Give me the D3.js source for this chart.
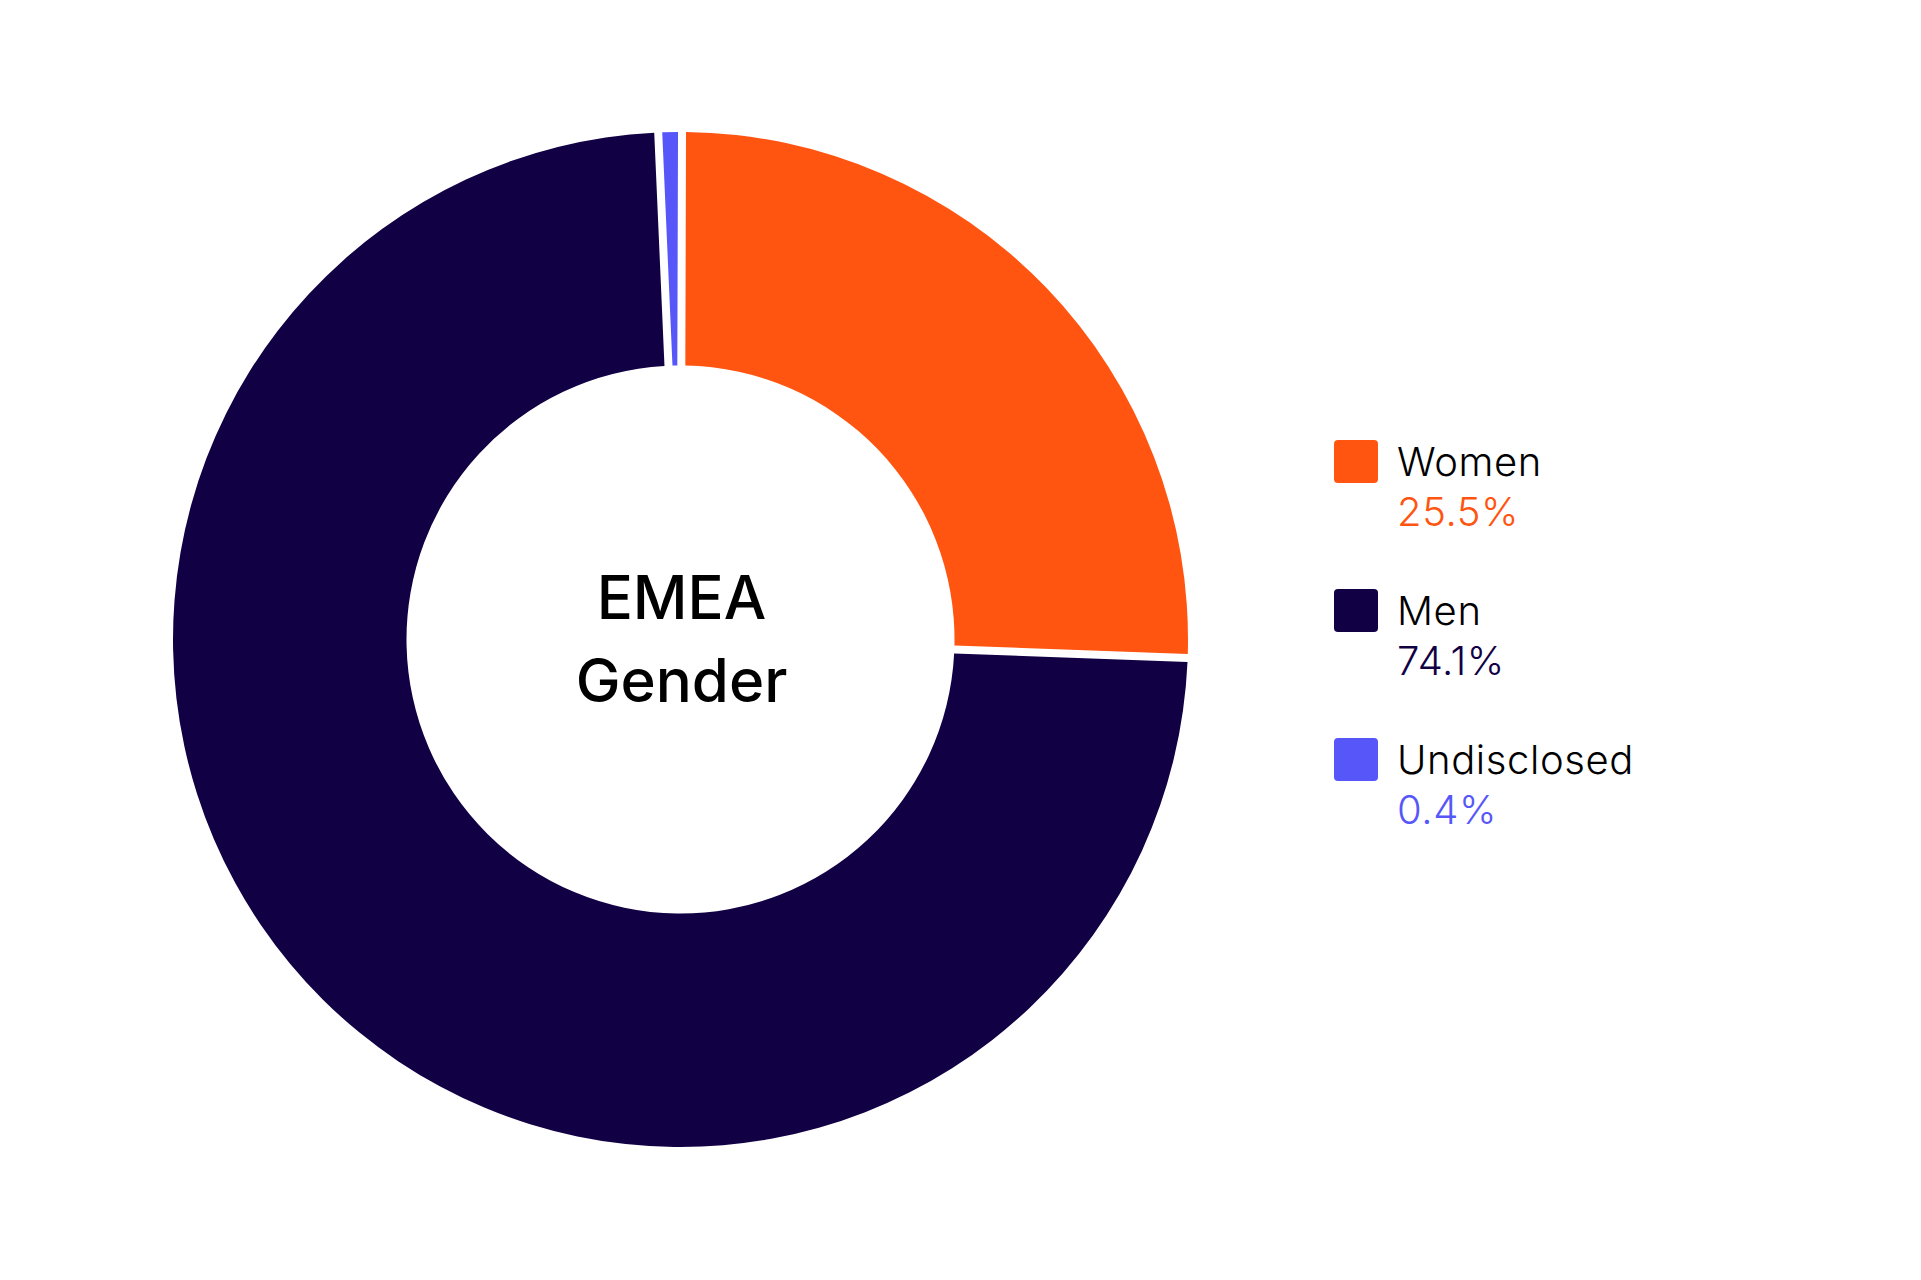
<!DOCTYPE html>
<html>
<head>
<meta charset="utf-8">
<script src="https://cdn.jsdelivr.net/npm/d3@7/dist/d3.min.js"></script>
<style>
  html, body { margin: 0; padding: 0; background: #ffffff; }
  svg { display: block; }
</style>
</head>
<body>
<script>
// ---- Data ----
const categories = ["Women", "Men", "Undisclosed"];
const values = [25.5, 74.1, 0.4];
const valueLabels = ["25.5%", "74.1%", "0.4%"];
const colors = ["#FF5511", "#120044", "#5757F9"];
const centerTitle = ["EMEA", "Gender"];

// ---- Layout ----
const W = 1921, H = 1280;
const cx = 680.5, cy = 639.5;
const outerR = 507.5, innerR = 274;
const gap = 8;            // white gap between slices, px
const minShare = 0.5;     // minimum displayed share so tiny slices remain visible

const svg = d3.select("body").append("svg")
  .attr("width", W).attr("height", H);

const pie = d3.pie()
  .sort(null)
  .value(d => Math.max(d, minShare))
  .startAngle(0.003)
  .endAngle(0.003 + 2 * Math.PI)
  .padAngle(gap / outerR);

const arc = d3.arc()
  .innerRadius(innerR)
  .outerRadius(outerR)
  .padRadius(outerR);

const g = svg.append("g").attr("transform", `translate(${cx},${cy})`);
g.selectAll("path.slice")
  .data(pie(values))
  .join("path")
  .attr("class", "slice")
  .attr("d", arc)
  .attr("fill", (d, i) => colors[i]);

// center title
g.selectAll("text.title")
  .data(centerTitle)
  .join("text")
  .attr("class", "title")
  .attr("x", 1)
  .attr("y", (d, i) => -20.5 + i * 83)
  .attr("text-anchor", "middle")
  .attr("font-family", "Inter, 'Noto Sans', sans-serif")
  .attr("font-weight", 500)
  .attr("font-size", 60)
  .attr("fill", "#000000")
  .text(d => d);

// legend
const legend = svg.append("g").attr("transform", "translate(1334,440)");
const rowH = 149;
const rows = legend.selectAll("g.row")
  .data(categories)
  .join("g")
  .attr("class", "row")
  .attr("transform", (d, i) => `translate(0,${i * rowH})`);

rows.append("rect")
  .attr("width", 44).attr("height", 43)
  .attr("rx", 4).attr("ry", 4)
  .attr("fill", (d, i) => colors[i]);

rows.append("text")
  .attr("x", 63).attr("y", 36)
  .attr("font-family", "Inter, 'Noto Sans', sans-serif")
  .attr("font-weight", 300)
  .attr("font-size", 40)
  .attr("letter-spacing", 0.6)
  .attr("fill", "#000000")
  .text(d => d);

rows.append("text")
  .attr("x", 63).attr("y", 86)
  .attr("font-family", "Inter, 'Noto Sans', sans-serif")
  .attr("font-weight", 300)
  .attr("font-size", 40)
  .attr("letter-spacing", 0.6)
  .attr("fill", (d, i) => colors[i])
  .text((d, i) => valueLabels[i]);
</script>
</body>
</html>
